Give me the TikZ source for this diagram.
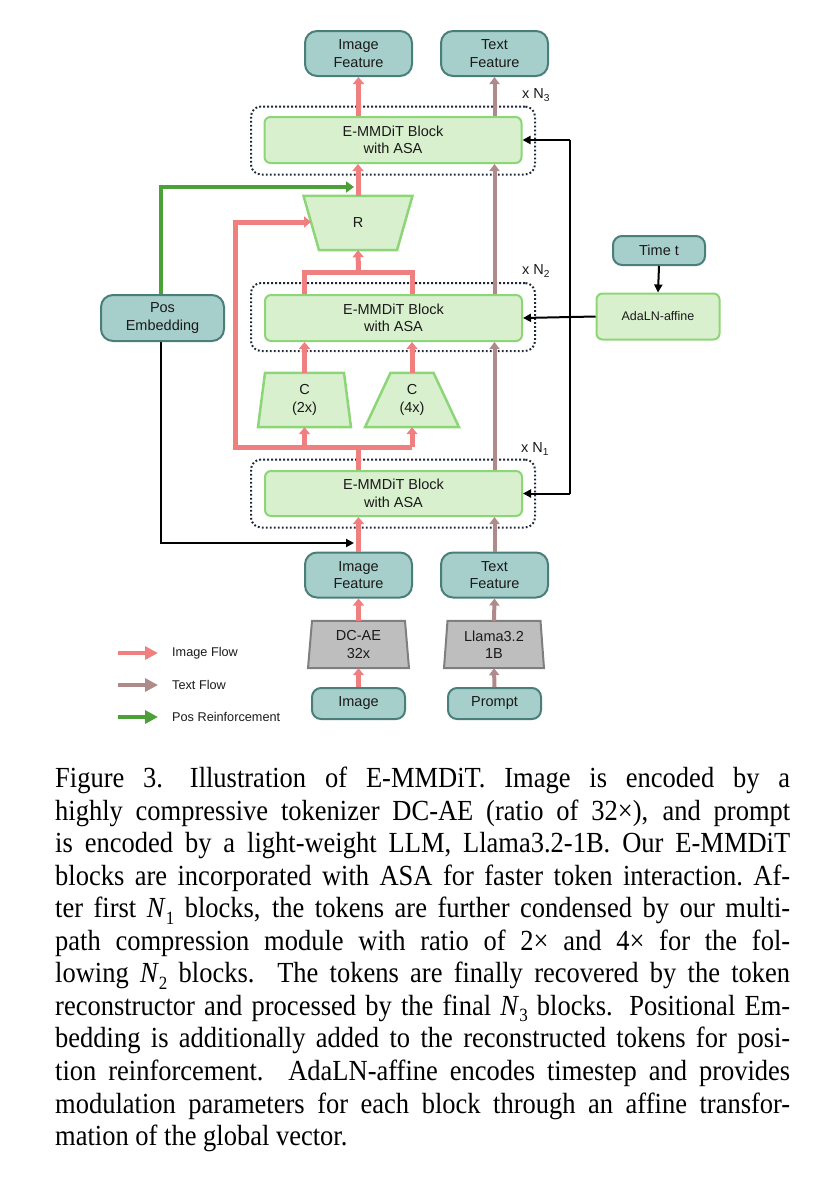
\documentclass[tikz,border=0pt]{standalone}
\usepackage{fontspec}
\usepackage{graphicx}
\setmainfont{Liberation Serif}
\newfontfamily\arialf{Liberation Sans}
\usetikzlibrary{arrows.meta,calc}
\pgfdeclarelayer{background}
\pgfsetlayers{background,main}
\definecolor{tealL}{HTML}{A6CFCB}
\definecolor{tealD}{HTML}{4A7E79}
\definecolor{grnF}{HTML}{D8F0CD}
\definecolor{grnB}{HTML}{8DD678}
\definecolor{grayF}{HTML}{BEBEBE}
\definecolor{grayD}{HTML}{7F7F7F}
\definecolor{pinkC}{HTML}{F08080}
\definecolor{brownC}{HTML}{AE8A8A}
\definecolor{greenC}{HTML}{4CA038}
\definecolor{navyC}{HTML}{1E2838}
\definecolor{txtC}{HTML}{1A1A1A}
\newcommand\Nsub[1]{\textit{N}\raisebox{-0.22em}{\fontsize{17}{17}\selectfont #1}}
\newcommand\capline[1]{\scalebox{1}[1.1]{\hbox to 735pt{#1}}}
\begin{document}
\begin{tikzpicture}[x=1pt,y=-1pt,
  txt/.style={font=\arialf\fontsize{14.5}{17.5}\selectfont, text=txtC, align=center},
  feat/.style={txt, draw=tealD, fill=tealL, line width=2pt, rounded corners=12pt, minimum width=107pt, minimum height=45pt, inner sep=0pt},
  smallfeat/.style={txt, draw=tealD, fill=tealL, line width=2pt, rounded corners=9pt, minimum width=93pt, minimum height=31pt, inner sep=0pt},
  blockbox/.style={txt, draw=grnB, fill=grnF, line width=2pt, rounded corners=6pt, minimum width=257pt, minimum height=46pt, inner sep=0pt},
  grpframe/.style={draw=navyC, line width=2pt, dash pattern=on 1.8pt off 2.2pt, rounded corners=10pt, minimum width=284pt, minimum height=68pt, inner sep=0pt},
  trapnode/.style={txt, minimum height=54pt, minimum width=40pt, inner sep=0pt},
  trapG/.style={draw=grnB, fill=grnF, line width=2.5pt, line join=miter},
  trapY/.style={draw=grayD, fill=grayF, line width=2pt, line join=miter},
  pkl/.style={draw=pinkC, line width=5pt},
  pk/.style={pkl, -{Triangle[length=7pt,width=11pt]}},
  brl/.style={draw=brownC, line width=4pt},
  br/.style={brl, -{Triangle[length=7pt,width=10pt]}},
  gr/.style={draw=greenC, line width=4.5pt, -{Triangle[length=8pt,width=11pt]}},
  bkl/.style={draw=black, line width=2pt},
  bk/.style={bkl, -{Triangle[length=8pt,width=8pt]}},
  legtext/.style={font=\arialf\fontsize{12.7}{15}\selectfont, text=txtC, anchor=west, inner sep=0pt},
  captext/.style={font=\fontsize{26.5}{32.5}\selectfont, text=black, anchor=base west, inner sep=0pt}
]
\useasboundingbox (0,0) rectangle (817,1183);

% frames
\node[grpframe] (f3) at (393,140.5) {};
\node[grpframe] (f2) at (393,317) {};
\node[grpframe] (f1) at (393,493.5) {};

% feature boxes
\node[feat] (imgfT) at (358.5,53.5) {Image\\Feature};
\node[feat] (txtfT) at (494.5,53.5) {Text\\Feature};
\node[feat] (imgfB) at (358.5,575) {Image\\Feature};
\node[feat] (txtfB) at (494.5,575) {Text\\Feature};
\node[feat, minimum width=123pt, minimum height=46pt] (pos) at (162.5,318) {Pos\\Embedding};
\node[smallfeat, minimum width=92pt, minimum height=29pt] (time) at (659,250.5) {Time t};
\node[smallfeat] (img) at (358.5,703.5) {Image};
\node[smallfeat] (prompt) at (494.5,703.5) {Prompt};
\node[blockbox, minimum width=123pt, font=\arialf\fontsize{12.5}{15}\selectfont] (ada) at (658,316.5) {AdaLN-affine};

% blocks
\node[blockbox] (n3) at (393,140) {E-MMDiT Block\\with ASA};
\node[blockbox] (n2) at (393.5,318) {E-MMDiT Block\\with ASA};
\node[blockbox, minimum height=45pt] (n1) at (393.5,493.5) {E-MMDiT Block\\with ASA};

% repeat labels
\node[txt, inner sep=0pt] (l3) at (536,95) {x N\textsubscript{3}};
\node[txt, inner sep=0pt] (l2) at (536,271) {x N\textsubscript{2}};
\node[txt, inner sep=0pt] (l1) at (535,449) {x N\textsubscript{1}};

% trapezoid nodes
\node[trapnode] (R) at (358,223) {R};
\node[trapnode] (c2) at (304.5,400) {C\\(2x)};
\node[trapnode] (c4) at (412,400) {C\\(4x)};
\node[trapnode, minimum height=47pt] (dcae) at (358.5,644.5) {DC-AE\\32x};
\node[trapnode, minimum height=47pt] (llama) at (494,644.5) {Llama3.2\\1B};

\begin{pgfonlayer}{background}
\path[trapG] ($(R.north)+(-54.5,0)$) -- ($(R.north)+(54.5,0)$) -- ($(R.south)+(39,0)$) -- ($(R.south)+(-39,0)$) -- cycle;
\path[trapG] ($(c2.north)+(-39.5,0)$) -- ($(c2.north)+(39.5,0)$) -- ($(c2.south)+(46.5,0)$) -- ($(c2.south)+(-46.5,0)$) -- cycle;
\path[trapG] ($(c4.north)+(-21.5,0)$) -- ($(c4.north)+(21.5,0)$) -- ($(c4.south)+(47,0)$) -- ($(c4.south)+(-47,0)$) -- cycle;
\path[trapY] ($(dcae.north)+(-46.5,0)$) -- ($(dcae.north)+(46.5,0)$) -- ($(dcae.south)+(50.5,0)$) -- ($(dcae.south)+(-50.5,0)$) -- cycle;
\path[trapY] ($(llama.north)+(-46.5,0)$) -- ($(llama.north)+(46.5,0)$) -- ($(llama.south)+(50,0)$) -- ($(llama.south)+(-50,0)$) -- cycle;
\end{pgfonlayer}

% coordinates
\coordinate (J) at (358.5,447);
\coordinate (loopc) at (235,447);
\coordinate (rL) at (311,222);
\coordinate (M) at (358.5,272);
\coordinate (gEnd) at (354,187);
\coordinate (bEnd) at (354,543);
\coordinate (bus) at (570,317);
\coordinate (pcol) at (161,318);

% image flow
\draw[pk] (img.north) -- (dcae.south);
\draw[pk] (dcae.north) -- (imgfB.south);
\draw[pk] (imgfB.north) -- (imgfB.north |- n1.south);
\draw[pkl] (J |- n1.north) -- (J);
\draw[pk] (J -| c4.south) -- (loopc) |- (rL);
\draw[pk] (J -| c2.south) -- (c2.south);
\draw[pk] (J -| c4.south) -- (c4.south);
\draw[pk] (c2.north) -- (c2.north |- n2.south);
\draw[pk] (c4.north) -- (c4.north |- n2.south);
\draw[pkl] (c2.north |- n2.north) -- (c2.north |- M) -- (c4.north |- M) -- (c4.north |- n2.north);
\draw[pk] (M) -- (R.south);
\draw[pk] (R.north) -- (R.north |- n3.south);
\draw[pk] (imgfT.south |- n3.north) -- (imgfT.south);

% text flow
\draw[br] (prompt.north) -- (llama.south);
\draw[br] (llama.north) -- (txtfB.south);
\draw[br] (txtfB.north) -- (txtfB.north |- n1.south);
\draw[br] (txtfB.north |- n1.north) -- (txtfB.north |- n2.south);
\draw[br] (txtfB.north |- n2.north) -- (txtfB.north |- n3.south);
\draw[br] (txtfT.south |- n3.north) -- (txtfT.south);

% pos embedding
\draw[gr] (pcol |- pos.north) |- (gEnd);
\draw[bk] (pcol |- pos.south) |- (bEnd);

% time conditioning
\draw[bkl] (bus |- n3.east) -- (bus |- n1.east);
\draw[bk] (bus |- n3.east) -- (n3.east);
\draw[bk] (bus |- n1.east) -- (n1.east);
\draw[bk] (ada.west) -- (n2.east);
\draw[bk] (time.south) -- (ada.north);

% legend
\coordinate (la1) at (118,653); \coordinate (lb1) at (158,653);
\coordinate (la2) at (118,685); \coordinate (lb2) at (158,685);
\coordinate (la3) at (118,717); \coordinate (lb3) at (158,717);
\draw[draw=pinkC, line width=4pt, -{Triangle[length=13pt,width=13pt]}] (la1) -- (lb1);
\draw[draw=brownC, line width=4pt, -{Triangle[length=13pt,width=13pt]}] (la2) -- (lb2);
\draw[draw=greenC, line width=4pt, -{Triangle[length=13pt,width=13pt]}] (la3) -- (lb3);
\node[legtext] (t1) at (172,653) {Image Flow};
\node[legtext] (t2) at (172,685) {Text Flow};
\node[legtext] (t3) at (172,717) {Pos Reinforcement};

% caption
\node[captext] (k1) at (55,787.5) {\capline{\frenchspacing Figure 3.\hspace{0.3em} Illustration of E-MMDiT. Image is encoded by a}};
\node[captext] (k2) at (55,820.05) {\capline{highly compressive tokenizer DC-AE (ratio of 32×), and prompt}};
\node[captext] (k3) at (55,852.6) {\capline{is encoded by a light-weight LLM, Llama3.2-1B. Our E-MMDiT}};
\node[captext] (k4) at (55,885.15) {\capline{\frenchspacing blocks are incorporated with ASA for faster token interaction. Af-}};
\node[captext] (k5) at (55,917.7) {\capline{ter first \Nsub{1} blocks, the tokens are further condensed by our multi-}};
\node[captext] (k6) at (55,950.25) {\capline{path compression module with ratio of 2× and 4× for the fol-}};
\node[captext] (k7) at (55,982.8) {\capline{lowing \Nsub{2} blocks. The tokens are finally recovered by the token}};
\node[captext] (k8) at (55,1015.35) {\capline{reconstructor and processed by the final \Nsub{3} blocks. Positional Em-}};
\node[captext] (k9) at (55,1047.9) {\capline{bedding is additionally added to the reconstructed tokens for posi-}};
\node[captext] (k10) at (55,1080.45) {\capline{tion reinforcement. AdaLN-affine encodes timestep and provides}};
\node[captext] (k11) at (55,1113) {\capline{modulation parameters for each block through an affine transfor-}};
\node[captext] (k12) at (55,1145.55) {\scalebox{1}[1.1]{\hbox{mation of the global vector.}}};
\end{tikzpicture}
\end{document}
